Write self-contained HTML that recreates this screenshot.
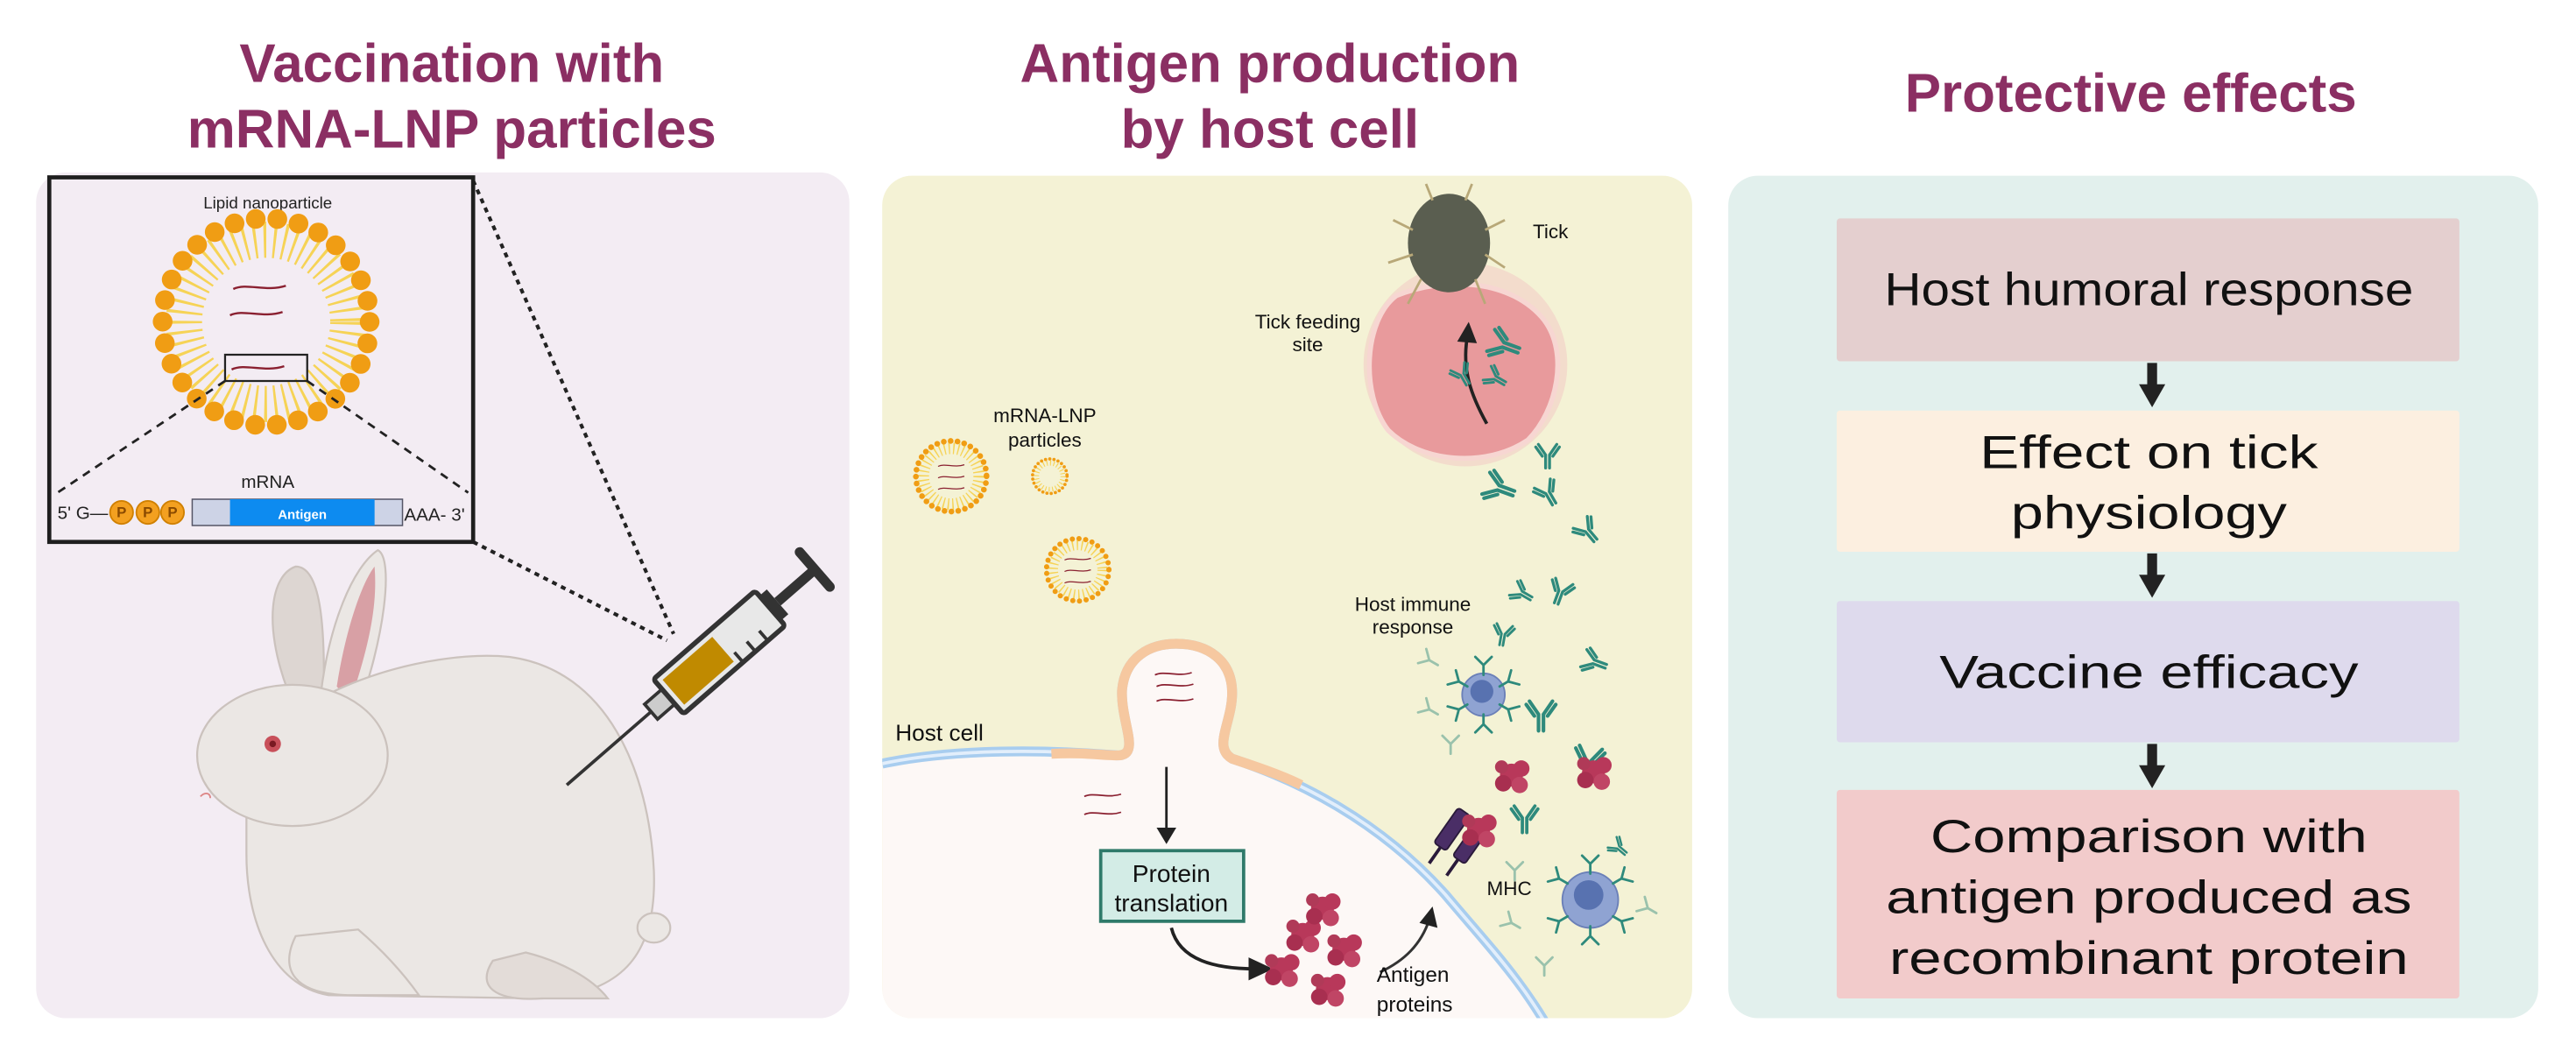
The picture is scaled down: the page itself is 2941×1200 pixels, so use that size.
<!DOCTYPE html>
<html><head><meta charset="utf-8"><style>
html,body{margin:0;padding:0;background:#fff;}
svg{display:block;}
text{font-family:"Liberation Sans",sans-serif;}
</style></head><body>
<svg width="2941" height="1200" viewBox="0 0 1568 640" preserveAspectRatio="none" xmlns="http://www.w3.org/2000/svg">
<defs>
<g id="ab" fill="none" stroke="#2e8a7c" stroke-width="2.2" stroke-linecap="round">
<path d="M-1.5 10 V0 L-7 -8 M1.5 10 V0 L7 -8 M-4 1 L-9 -6 M4 1 L9 -6"/>
</g>
<g id="abs" fill="none" stroke="#2e8a7c" stroke-width="1.5" stroke-linecap="round">
<path d="M0 6 V0 L-5 -5 M0 0 L5 -5"/>
</g>
<g id="blob">
<circle cx="0" cy="0" r="7" fill="#b8385a"/><circle cx="6" cy="-4" r="5" fill="#b8385a"/><circle cx="-5" cy="5" r="5" fill="#a82f50"/><circle cx="5" cy="6" r="5" fill="#c04565"/><circle cx="-6" cy="-5" r="4" fill="#b03a58"/>
</g>
<g id="rna" fill="none" stroke="#8a2030" stroke-width="1.3">
<path d="M0 0 C8 -4 20 2 32 -2"/>
</g>
</defs>

<g fill="#8b2f63" font-weight="bold" font-size="33" text-anchor="middle">
<text x="275" y="50">Vaccination with</text>
<text x="275" y="90">mRNA-LNP particles</text>
<text x="773" y="50">Antigen production</text>
<text x="773" y="90">by host cell</text>
<text x="1297" y="68">Protective effects</text>
</g>

<rect x="22" y="105" width="495" height="515" rx="18" fill="#f3ecf3"/>
<path d="M288 110 L410 386 M288 330 L406 390" stroke="#222" stroke-width="2.2" stroke-dasharray="3 3" fill="none"/>
<g fill="#ebe7e4" stroke="#cbc2bd" stroke-width="1.2">
<path d="M175 420 C160 380 165 350 180 345 C195 345 198 380 197 425 Z" fill="#ddd6d2"/>
<path d="M195 425 C200 380 215 345 230 335 C240 340 234 390 217 435 Z"/>
<path d="M205 418 C210 385 220 355 228 345 C230 370 224 395 213 428 Z" fill="#d8a0a5" stroke="none"/>
<path d="M150 470 C170 420 260 395 310 400 C370 408 395 470 398 530 C400 580 380 605 330 608 L200 606 C165 600 150 560 150 520 Z"/>
<path d="M300 585 C290 600 300 610 330 608 L370 608 C360 595 340 585 320 580 Z" fill="#e3dcd8"/>
<path d="M180 570 C170 590 178 606 215 606 L255 606 C245 592 232 578 218 566 Z"/>
<ellipse cx="178" cy="460" rx="58" ry="43"/>
<ellipse cx="398" cy="565" rx="10" ry="9"/>
</g>
<circle cx="166" cy="453" r="5" fill="#c8505a"/><circle cx="166" cy="453" r="2" fill="#7a1a22"/>
<path d="M122 485 c3 -3 6 -2 6 1" stroke="#d88" fill="none"/>
<g transform="translate(345,478) rotate(-41)">
<line x1="0" y1="0" x2="70" y2="0" stroke="#333" stroke-width="2"/>
<rect x="68" y="-6" width="14" height="12" fill="#ccc" stroke="#333" stroke-width="2"/>
<rect x="82" y="-14" width="82" height="28" rx="2" fill="#e8e8e8" stroke="#333" stroke-width="3"/>
<rect x="86" y="-10" width="40" height="20" fill="#c08a00"/>
<path d="M130 14 v-8 M140 14 v-8 M150 14 v-8" stroke="#333" stroke-width="2"/>
<rect x="164" y="-10" width="6" height="20" fill="#333"/>
<line x1="170" y1="0" x2="200" y2="0" stroke="#333" stroke-width="6"/>
<line x1="200" y1="-14" x2="200" y2="14" stroke="#333" stroke-width="6" stroke-linecap="round"/>
</g>
<rect x="30" y="108" width="258" height="222" fill="#f3ecf3" stroke="#1e1e1e" stroke-width="2.5"/>
<text x="163" y="127" font-size="10" text-anchor="middle" fill="#222">Lipid nanoparticle</text>
<circle cx="162" cy="196" r="50" fill="none" stroke="#f6d356" stroke-width="22" stroke-dasharray="1.6 4.4"/>
<circle cx="162" cy="196" r="63" fill="none" stroke="#f09d14" stroke-width="12" stroke-dasharray="0 13.2" stroke-linecap="round"/>
<use href="#rna" x="142" y="176"/><use href="#rna" x="140" y="192"/><use href="#rna" x="141" y="225"/>
<rect x="137" y="216" width="50" height="16" fill="none" stroke="#222" stroke-width="1.2"/>
<path d="M137 232 L35 300 M187 232 L285 300" stroke="#222" stroke-width="1.5" stroke-dasharray="5 4"/>
<text x="163" y="297" font-size="11" text-anchor="middle" fill="#222">mRNA</text>
<text x="35" y="316" font-size="11" fill="#222">5' G—</text>
<g fill="#f3a020" stroke="#d08000" stroke-width="1"><circle cx="74" cy="312" r="7"/><circle cx="90" cy="312" r="7"/><circle cx="105" cy="312" r="7"/></g>
<g font-size="9" fill="#8a4a00" text-anchor="middle" font-weight="bold"><text x="74" y="315">P</text><text x="90" y="315">P</text><text x="105" y="315">P</text></g>
<rect x="117" y="304" width="128" height="16" fill="#cdd3e6" stroke="#556" stroke-width="0.8"/>
<rect x="140" y="304" width="88" height="16" fill="#0d8bf0"/>
<text x="184" y="316" font-size="8" fill="#fff" text-anchor="middle" font-weight="bold">Antigen</text>
<text x="246" y="317" font-size="11" fill="#222">AAA- 3'</text>

<defs><clipPath id="p2"><rect x="537" y="107" width="493" height="513" rx="18"/></clipPath></defs>
<rect x="537" y="107" width="493" height="513" rx="18" fill="#f4f2d5"/>
<g clip-path="url(#p2)">
<path d="M537 465 C570 458 620 455 680 460 C695 460 682 440 683 420 C685 400 700 392 716 392 C735 392 750 402 750 422 C750 440 738 455 750 462 C790 475 840 500 880 545 C905 575 930 600 950 640 L537 640 Z" fill="#fdf8f6"/>
<path d="M537 465 C570 458 620 455 680 460 C695 460 682 440 683 420 C685 400 700 392 716 392 C735 392 750 402 750 422 C750 440 738 455 750 462 C790 475 840 500 880 545 C905 575 930 600 950 640" fill="none" stroke="#a8cdef" stroke-width="6"/>
<path d="M537 465 C570 458 620 455 680 460 C695 460 682 440 683 420 C685 400 700 392 716 392 C735 392 750 402 750 422 C750 440 738 455 750 462 C790 475 840 500 880 545 C905 575 930 600 950 640" fill="none" stroke="#e2eefb" stroke-width="2"/>
<path d="M640 459 C660 458 670 460 680 460 C695 460 682 440 683 420 C685 400 700 392 716 392 C735 392 750 402 750 422 C750 440 738 455 750 462 C765 467 780 472 792 478" fill="none" stroke="#f6c8a0" stroke-width="6"/>
</g>
<circle cx="892" cy="222" r="62" fill="#f2d3c8" opacity="0.7"/>
<path d="M850 180 C880 168 920 170 940 195 C955 215 948 250 930 268 C905 285 865 282 845 262 C828 240 830 195 850 180 Z" fill="#e89a9c" stroke="#f7d6d2" stroke-width="3"/>
<ellipse cx="882" cy="148" rx="25" ry="30" fill="#5a5e50"/>
<g stroke="#b8a878" stroke-width="1.5" fill="none"><path d="M860 140 l-12 -6 M860 155 l-15 5 M865 170 l-8 15 M904 140 l12 -6 M904 155 l12 8 M898 170 l6 15 M872 122 l-4 -10 M892 122 l4 -10"/></g>
<path d="M905 258 C895 240 890 225 893 206" stroke="#222" stroke-width="2" fill="none"/>
<path d="M887 208 L894 196 L899 209 Z" fill="#222"/>
<text x="933" y="145" font-size="12" fill="#111">Tick</text>
<text x="796" y="200" font-size="12" fill="#111" text-anchor="middle">Tick feeding</text>
<text x="796" y="214" font-size="12" fill="#111" text-anchor="middle">site</text>
<text x="636" y="257" font-size="12" fill="#111" text-anchor="middle">mRNA-LNP</text>
<text x="636" y="272" font-size="12" fill="#111" text-anchor="middle">particles</text>
<g>
<circle cx="579" cy="290" r="17" fill="none" stroke="#f6d356" stroke-width="7" stroke-dasharray="0.8 2"/>
<circle cx="579" cy="290" r="21.5" fill="none" stroke="#f09d14" stroke-width="3.5" stroke-dasharray="0 4.2" stroke-linecap="round"/>
<use href="#rna" transform="translate(571,284) scale(0.5)"/><use href="#rna" transform="translate(571,291) scale(0.5)"/><use href="#rna" transform="translate(571,298) scale(0.5)"/>
<circle cx="639" cy="290" r="8" fill="none" stroke="#f6d356" stroke-width="3" stroke-dasharray="0.6 1.5"/>
<circle cx="639" cy="290" r="10.5" fill="none" stroke="#f09d14" stroke-width="2" stroke-dasharray="0 2.6" stroke-linecap="round"/>
<circle cx="656" cy="347" r="15" fill="none" stroke="#f6d356" stroke-width="6" stroke-dasharray="0.8 2"/>
<circle cx="656" cy="347" r="19" fill="none" stroke="#f09d14" stroke-width="3.2" stroke-dasharray="0 4.1" stroke-linecap="round"/>
<use href="#rna" transform="translate(648,341) scale(0.5)"/><use href="#rna" transform="translate(648,348) scale(0.5)"/><use href="#rna" transform="translate(648,355) scale(0.5)"/>
</g>
<text x="545" y="451" font-size="14" fill="#111">Host cell</text>
<use href="#rna" transform="translate(703,411) scale(0.7)"/><use href="#rna" transform="translate(704,418) scale(0.7)"/><use href="#rna" transform="translate(704,427) scale(0.7)"/>
<use href="#rna" transform="translate(660,485) scale(0.7)"/><use href="#rna" transform="translate(660,496) scale(0.7)"/>
<line x1="710" y1="467" x2="710" y2="506" stroke="#222" stroke-width="1.5"/>
<path d="M704 504 L716 504 L710 514 Z" fill="#222"/>
<rect x="670" y="518" width="87" height="43" fill="#d3ece6" stroke="#2f7a6a" stroke-width="2"/>
<text x="713" y="537" font-size="15" fill="#111" text-anchor="middle">Protein</text>
<text x="713" y="555" font-size="15" fill="#111" text-anchor="middle">translation</text>
<path d="M713 565 C718 585 740 590 765 590" stroke="#222" stroke-width="2" fill="none"/>
<path d="M760 583 L775 590 L760 597 Z" fill="#222"/>
<use href="#blob" x="780" y="590"/><use href="#blob" x="793" y="569"/><use href="#blob" x="818" y="578"/><use href="#blob" x="808" y="602"/><use href="#blob" x="805" y="553"/>
<path d="M840 592 C855 585 865 575 870 560" stroke="#333" stroke-width="1.6" fill="none"/>
<path d="M864 562 L872 552 L875 565 Z" fill="#222"/>
<text x="838" y="598" font-size="13" fill="#111">Antigen</text>
<text x="838" y="616" font-size="13" fill="#111">proteins</text>
<g transform="translate(886,515) rotate(35)">
<rect x="-12" y="-20" width="9" height="26" rx="2" fill="#4a2e66" stroke="#2a1a3a"/>
<rect x="2" y="-20" width="9" height="26" rx="2" fill="#4a2e66" stroke="#2a1a3a"/>
<line x1="-7" y1="6" x2="-7" y2="18" stroke="#2a1a3a" stroke-width="2"/><line x1="6" y1="6" x2="6" y2="18" stroke="#2a1a3a" stroke-width="2"/>
</g>
<use href="#blob" x="900" y="505"/>
<text x="905" y="545" font-size="12" fill="#111">MHC</text>
<text x="860" y="372" font-size="12" fill="#111" text-anchor="middle">Host immune</text>
<text x="860" y="386" font-size="12" fill="#111" text-anchor="middle">response</text>
<circle cx="903" cy="423" r="13" fill="#8fa3d2" stroke="#6b80b8"/><circle cx="902" cy="421" r="7" fill="#5872b0"/>
<circle cx="968" cy="548" r="17" fill="#8fa3d2" stroke="#6b80b8"/><circle cx="967" cy="545" r="9" fill="#5872b0"/>
<use href="#ab" transform="translate(915,210) rotate(-70)"/>
<use href="#ab" transform="translate(890,228) rotate(-30) scale(0.7)"/>
<use href="#ab" transform="translate(910,230) rotate(-60) scale(0.7)"/>
<use href="#ab" transform="translate(942,277) scale(0.8)"/>
<use href="#ab" transform="translate(912,297) rotate(-70)"/>
<use href="#ab" transform="translate(942,300) rotate(-30) scale(0.8)"/>
<use href="#ab" transform="translate(966,323) rotate(-40) scale(0.8)"/>
<use href="#ab" transform="translate(926,361) rotate(-60) scale(0.7)"/>
<use href="#ab" transform="translate(950,360) rotate(20) scale(0.8)"/>
<use href="#ab" transform="translate(915,386) rotate(10) scale(0.7)"/>
<use href="#ab" transform="translate(970,403) rotate(-70) scale(0.8)"/>
<use href="#ab" transform="translate(938,435)"/>
<use href="#ab" transform="translate(967,463) rotate(10)"/>
<use href="#ab" transform="translate(928,498) scale(0.9)"/>
<use href="#ab" transform="translate(985,516) rotate(-50) scale(0.6)"/>
<use href="#abs" transform="translate(903,405)"/><use href="#abs" transform="translate(903,441) rotate(180)"/>
<use href="#abs" transform="translate(888,415) rotate(-60)"/><use href="#abs" transform="translate(918,415) rotate(60)"/>
<use href="#abs" transform="translate(888,432) rotate(-120)"/><use href="#abs" transform="translate(918,432) rotate(120)"/>
<use href="#abs" transform="translate(968,526)"/><use href="#abs" transform="translate(968,570) rotate(180)"/>
<use href="#abs" transform="translate(949,535) rotate(-60)"/><use href="#abs" transform="translate(987,535) rotate(60)"/>
<use href="#abs" transform="translate(949,561) rotate(-120)"/><use href="#abs" transform="translate(987,561) rotate(120)"/>
<g opacity="0.45"><use href="#abs" transform="translate(870,402) rotate(-60)"/><use href="#abs" transform="translate(870,432) rotate(-60)"/><use href="#abs" transform="translate(883,453)"/><use href="#abs" transform="translate(922,530)"/><use href="#abs" transform="translate(1003,553) rotate(-60)"/><use href="#abs" transform="translate(940,588)"/><use href="#abs" transform="translate(920,562) rotate(-60)"/></g>
<use href="#blob" x="970" y="470"/>
<use href="#blob" x="920" y="472"/>

<rect x="1052" y="107" width="493" height="513" rx="18" fill="#e2f0ed"/>
<rect x="1118" y="133" width="379" height="87" rx="2" fill="#e4cfcf"/>
<rect x="1118" y="250" width="379" height="86" rx="2" fill="#fcefe0"/>
<rect x="1118" y="366" width="379" height="86" rx="2" fill="#dedaed"/>
<rect x="1118" y="481" width="379" height="127" rx="2" fill="#f2cbcb"/>
<g fill="#222">
<rect x="1307" y="221" width="6" height="15"/><path d="M1302 234 L1318 234 L1310 248 Z"/>
<rect x="1307" y="337" width="6" height="15"/><path d="M1302 350 L1318 350 L1310 364 Z"/>
<rect x="1307" y="453" width="6" height="15"/><path d="M1302 466 L1318 466 L1310 480 Z"/>
</g>
<g font-size="28" fill="#111" text-anchor="middle">
<text x="1308" y="186" textLength="322" lengthAdjust="spacingAndGlyphs">Host humoral response</text>
<text x="1308" y="285" textLength="206" lengthAdjust="spacingAndGlyphs">Effect on tick</text>
<text x="1308" y="322" textLength="168" lengthAdjust="spacingAndGlyphs">physiology</text>
<text x="1308" y="419" textLength="255" lengthAdjust="spacingAndGlyphs">Vaccine efficacy</text>
<text x="1308" y="519" textLength="266" lengthAdjust="spacingAndGlyphs">Comparison with</text>
<text x="1308" y="556" textLength="320" lengthAdjust="spacingAndGlyphs">antigen produced as</text>
<text x="1308" y="593" textLength="316" lengthAdjust="spacingAndGlyphs">recombinant protein</text>
</g>
</svg>
</body></html>
